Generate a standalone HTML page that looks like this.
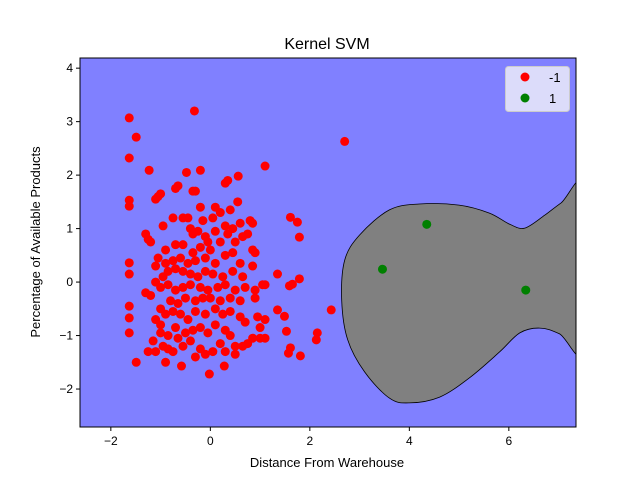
<!DOCTYPE html>
<html><head><meta charset="utf-8"><style>
body{margin:0;background:#fff;}
svg text{font-family:"Liberation Sans","DejaVu Sans",sans-serif;fill:#000;}
</style></head><body>
<svg id="chart" width="640" height="480" viewBox="0 0 640 480" xmlns="http://www.w3.org/2000/svg">
<rect width="640" height="480" fill="#fff"/>
<g id="plot"></g>
<g id="axes"></g>
<text x="327" y="49" font-size="16" text-anchor="middle">Kernel SVM</text>
<text x="327" y="467" font-size="13" text-anchor="middle">Distance From Warehouse</text>
<text transform="translate(40,242) rotate(-90)" font-size="13" text-anchor="middle">Percentage of Available Products</text>
<g>
<rect x="505.5" y="66.5" width="64" height="45" rx="3" fill="#e6e6fa" fill-opacity="0.9" stroke="#ccc"/>
<circle cx="525" cy="77" r="4.5" fill="#ff0000"/>
<text x="549" y="82" font-size="13">-1</text>
<circle cx="525" cy="98" r="4.5" fill="#008000"/>
<text x="549" y="103" font-size="13">1</text>
</g>
</svg>
<script>
const xTicks=[-2,0,2,4,6];
const yTicks=[-2,-1,0,1,2,3,4];
const xDomain=[-2.62,7.35];
const yDomain=[-2.71,4.19];
const greenX=[3.46,4.35,6.34];
const greenY=[0.24,1.08,-0.15];
const regionBoundary=[[2.64,-0.34],[2.70,0.41],[3.0,0.88],[3.6,1.35],[4.2,1.46],[5.0,1.44],[5.61,1.29],[6.02,1.08],[6.32,1.01],[6.72,1.25],[7.05,1.48],[7.6,1.82],[7.6,-1.3],[7.02,-0.97],[6.62,-0.86],[6.22,-0.95],[5.81,-1.31],[5.21,-1.79],[4.61,-2.15],[4.0,-2.26],[3.6,-2.17],[3.1,-1.68],[2.76,-1.08]];
const redPoints=[[-1.63,3.07],[-1.49,2.71],[-0.32,3.2],[-1.63,2.32],[2.7,2.63],[1.1,2.17],[-1.23,2.09],[-0.2,2.09],[-0.48,2.05],[0.56,1.98],[-1.63,1.53],[-1.63,1.42],[2.43,-0.52],[2.15,-0.95],[2.13,-1.08],[1.81,-1.38],[1.61,-1.23],[1.57,-1.33],[1.53,-0.92],[1.75,1.12],[1.61,1.21],[1.79,0.84],[1.79,0.06],[1.65,-0.04],[1.59,-0.07],[1.35,0.15],[1.35,-0.52],[1.49,-0.64],[-1.49,-1.5],[-1.63,-0.45],[-1.63,-0.67],[-1.63,-0.95],[-1.63,0.36],[-1.63,0.15],[-0.9,-1.5],[-0.02,-1.72],[0.28,-1.57],[-0.58,-1.57],
[-1.3,0.9],[-1.2,0.75],[-1.25,0.8],[-1.0,1.65],[-1.05,1.6],[-1.1,1.55],[-0.95,1.05],[-0.7,1.75],[-0.65,1.8],[-0.35,1.7],[-0.3,1.7],[-0.2,1.4],[-0.45,1.2],[-0.55,1.2],[-0.75,1.2],[-0.4,1.0],[-0.35,0.9],[-0.25,0.95],[-0.15,1.15],[-0.1,0.85],[0.05,1.2],[0.1,1.4],[0.2,1.3],[0.3,1.85],[0.35,1.9],[0.55,1.5],[0.4,1.35],[0.3,1.05],[0.45,1.0],[0.6,1.1],[0.8,1.15],[0.85,1.1],[0.75,0.9],[0.65,0.85],[0.5,0.75],[0.35,0.9],[0.2,0.75],[0.1,0.95],[0.0,0.6],[-0.05,0.75],[-0.2,0.65],[-0.35,0.55],[-0.55,0.7],[-0.7,0.7],[-0.9,0.6],[-1.05,0.45],[-1.1,0.3],[-0.9,0.35],[-0.75,0.4],[-0.6,0.45],[-0.45,0.35],[-0.3,0.4],[-0.1,0.45],[0.1,0.35],[0.3,0.5],[0.45,0.55],[0.6,0.35],[0.85,0.6],[0.9,0.55],[0.85,0.3],[0.65,0.1],[0.45,0.2],[0.25,0.1],[0.05,0.15],[-0.1,0.2],[-0.25,0.1],[-0.4,0.15],[-0.55,0.2],[-0.7,0.25],[-0.85,0.2],[-0.95,0.1],[-1.1,0.0],[-1.3,-0.2],[-1.2,-0.25],[-1.0,-0.1],[-0.85,-0.05],[-0.7,-0.15],[-0.55,-0.1],[-0.4,-0.05],[-0.2,-0.1],[-0.05,-0.15],[0.15,-0.1],[0.3,-0.05],[0.5,-0.15],[0.7,-0.1],[0.9,-0.15],[1.05,-0.05],[1.1,-0.05],[0.9,-0.3],[0.6,-0.35],[0.4,-0.3],[0.2,-0.35],[0.0,-0.3],[-0.15,-0.3],[-0.3,-0.35],[-0.5,-0.3],[-0.65,-0.4],[-0.8,-0.35],[-1.0,-0.5],[-1.1,-0.7],[-1.0,-0.8],[-0.9,-0.6],[-0.75,-0.55],[-0.6,-0.6],[-0.45,-0.7],[-0.3,-0.55],[-0.1,-0.6],[0.1,-0.5],[0.25,-0.6],[0.4,-0.55],[0.6,-0.65],[0.7,-0.75],[0.95,-0.65],[1.1,-0.7],[1.0,-0.85],[0.85,-1.05],[0.75,-1.15],[0.5,-1.2],[0.4,-1.0],[0.3,-0.9],[0.1,-0.8],[-0.05,-0.95],[-0.2,-0.85],[-0.35,-0.9],[-0.5,-0.95],[-0.7,-0.85],[-0.85,-1.0],[-1.0,-0.95],[-1.15,-1.1],[-1.25,-1.3],[-1.1,-1.3],[-0.95,-1.2],[-0.75,-1.3],[-0.55,-1.2],[-0.4,-1.1],[-0.2,-1.25],[-0.1,-1.35],[0.05,-1.3],[0.3,-1.3],[0.5,-1.35],[-0.3,-1.4],[0.2,-1.15],[0.65,-1.2],[1.1,-1.05],[1.0,-1.05],[-0.65,-1.05],[-0.85,-1.25]];

const L=80,R=576,T=58,B=427;
const NS='http://www.w3.org/2000/svg';
function sx(v){return L+(v-xDomain[0])/(xDomain[1]-xDomain[0])*(R-L);}
function sy(v){return B-(v-yDomain[0])/(yDomain[1]-yDomain[0])*(B-T);}
function mk(tag,attrs,parent){const e=document.createElementNS(NS,tag);for(const k in attrs)e.setAttribute(k,attrs[k]);parent.appendChild(e);return e;}
const plot=document.getElementById('plot'),axes=document.getElementById('axes');
const defs=mk('defs',{},plot);
const cp=mk('clipPath',{id:'clip'},defs);
mk('rect',{x:L,y:T,width:R-L,height:B-T},cp);
const bg=mk('rect',{x:L,y:T,width:R-L,height:B-T,fill:'#8080ff'},plot);


const g=mk('g',{'clip-path':'url(#clip)'},plot);
const P=regionBoundary.map(p=>[sx(p[0]),sy(p[1])]);
const n=P.length;
let d='M'+P[0][0].toFixed(1)+','+P[0][1].toFixed(1);
for(let i=0;i<n;i++){
  const p0=P[(i-1+n)%n],p1=P[i],p2=P[(i+1)%n],p3=P[(i+2)%n];
  const c1=[p1[0]+(p2[0]-p0[0])/6,p1[1]+(p2[1]-p0[1])/6];
  const c2=[p2[0]-(p3[0]-p1[0])/6,p2[1]-(p3[1]-p1[1])/6];
  d+='C'+c1[0].toFixed(1)+','+c1[1].toFixed(1)+' '+c2[0].toFixed(1)+','+c2[1].toFixed(1)+' '+p2[0].toFixed(1)+','+p2[1].toFixed(1);
}
const reg=mk('path',{d:d+'Z',fill:'#808080',stroke:'#000','stroke-width':'0.8'},g);


redPoints.forEach(p=>{const c=mk('circle',{cx:sx(p[0]),cy:sy(p[1]),r:4.5,fill:'#ff0000'},g);

});
greenX.forEach((x,i)=>{const c=mk('circle',{cx:sx(x),cy:sy(greenY[i]),r:4.5,fill:'#008000'},g);

});
const fr=mk('rect',{x:L,y:T,width:R-L,height:B-T,fill:'none',stroke:'#000','stroke-width':'1'},axes);


xTicks.forEach(v=>{const x=sx(v);mk('line',{x1:x,x2:x,y1:B,y2:B+4,stroke:'#000'},axes);
const t=mk('text',{x:x,y:B+18,'font-size':'12','text-anchor':'middle'},axes);t.textContent=v<0?'\u2212'+(-v):String(v);

});
yTicks.forEach(v=>{const y=sy(v);mk('line',{x1:L-4,x2:L,y1:y,y2:y,stroke:'#000'},axes);
const t=mk('text',{x:L-7,y:y+4,'font-size':'12','text-anchor':'end'},axes);t.textContent=v<0?'\u2212'+(-v):String(v);

});
</script>
</body></html>
